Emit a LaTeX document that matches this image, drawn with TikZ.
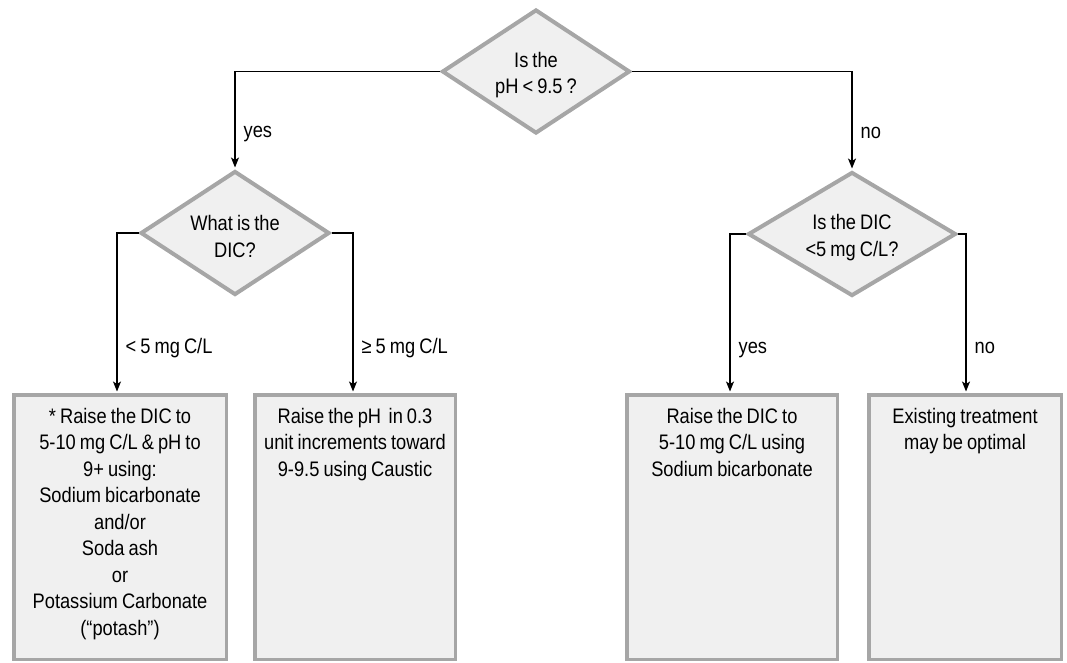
\documentclass[tikz,border=0pt]{standalone}
\usepackage{fontspec}
\setmainfont{Liberation Sans}[FakeStretch=0.87,WordSpace=0.8]
\usetikzlibrary{shapes.geometric,arrows.meta}
\definecolor{diagray}{HTML}{A6A6A6}
\definecolor{boxfill}{HTML}{F0F0F0}
\newcommand\fsz{\fontsize{21}{26.5}\selectfont}
\begin{document}
\begin{tikzpicture}[x=1pt,y=-1pt,
 dec/.style={diamond, draw=diagray, fill=boxfill, line width=4pt, inner sep=0pt},
 dectext/.style={align=center, font=\fsz, inner sep=0pt, anchor=center, yshift=-3.5pt},
 outbox/.style={rectangle, draw=diagray, fill=boxfill, line width=3.5pt, inner sep=0pt, minimum height=264.5pt},
 boxtext/.style={anchor=north, align=center, inner sep=0pt, font=\fsz, yshift=-15pt},
 conn/.style={draw=black, line width=1.3pt, shorten >=1.5pt, -{Stealth[length=10pt,width=8pt,inset=2.5pt]}},
 lbl/.style={anchor=base west, inner sep=0pt, font=\fsz, xshift=8pt}]
\useasboundingbox (0,0) rectangle (1067,662);

\node[dec, minimum width=188pt, minimum height=124pt, label={[dectext]center:Is the\\pH < 9.5 ?}] (d1) at (536,71.5) {};
\node[dec, minimum width=189pt, minimum height=124pt, label={[dectext]center:What is the\\DIC?}] (d2) at (235,233) {};
\node[dec, minimum width=208pt, minimum height=124pt, label={[dectext]center:Is the DIC\\<5 mg C/L?}] (d3) at (852,234) {};

\node[outbox, minimum width=212.5pt] (b1) at (120,527) {};
\node[outbox, minimum width=200.5pt] (b2) at (355,527) {};
\node[outbox, minimum width=210.5pt] (b3) at (732,527) {};
\node[outbox, minimum width=192.5pt] (b4) at (965,527) {};

\node[boxtext] (t1) at (b1.north) {* Raise the DIC to\\5-10 mg C/L \& pH to\\9+ using:\\Sodium bicarbonate\\and/or\\Soda ash\\or\\Potassium Carbonate\\(“potash”)};
\node[boxtext] (t2) at (b2.north) {Raise the pH\, in 0.3\\unit increments toward\\9-9.5 using Caustic};
\node[boxtext] (t3) at (b3.north) {Raise the DIC to\\5-10 mg C/L using\\Sodium bicarbonate};
\node[boxtext] (t4) at (b4.north) {Existing treatment\\may be optimal};

\draw[conn] (d1.west) -| (d2.north) node[lbl, pos=0.84] {yes};
\draw[conn] (d1.east) -| (d3.north) node[lbl, pos=0.84] {no};
\draw[conn] (d2.west) -| ([xshift=-3pt]b1.north) node[lbl, pos=0.875] {< 5 mg C/L};
\draw[conn] (d2.east) -| ([xshift=-2pt]b2.north) node[lbl, pos=0.875] {≥ 5 mg C/L};
\draw[conn] (d3.west) -| ([xshift=-2pt]b3.north) node[lbl, pos=0.875] {yes};
\draw[conn] (d3.east) -| ([xshift=1pt]b4.north) node[lbl, pos=0.875] {no};
\end{tikzpicture}
\end{document}
